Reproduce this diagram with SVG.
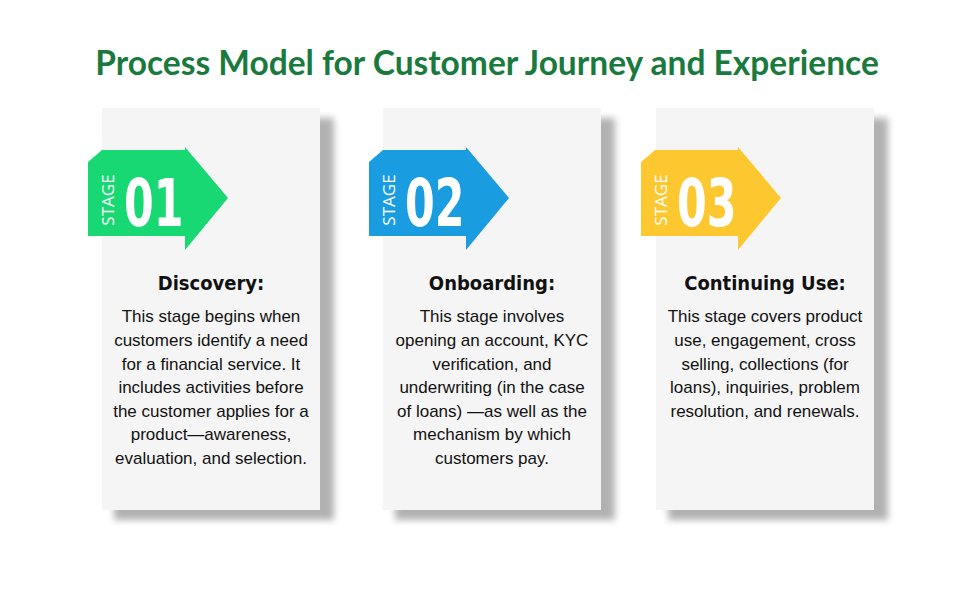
<svg xmlns="http://www.w3.org/2000/svg" width="974" height="602" viewBox="0 0 974 602">
<defs>
<filter id="sh" x="-10%" y="-10%" width="130%" height="130%"><feGaussianBlur stdDeviation="3.5"/></filter>
<path id="arr" d="M0,14 L14,2 L97,2 L97,-1 L140,50 L97,102 L97,88 L0,88 Z"/>
</defs>
<style>
.card{fill:#f5f5f5}
.shd{fill:#000;opacity:0.3;filter:url(#sh)}
.title{font-family:Lato,"Liberation Sans",sans-serif;font-weight:700;font-size:33.5px;fill:#1a7a3e}
.stage{font-family:"Open Sans","Liberation Sans",sans-serif;font-size:17px;fill:#fff}
.num{font-family:"DejaVu Sans Condensed","DejaVu Sans",sans-serif;font-weight:700;font-size:66px;fill:#fff}
.hd{font-family:"DejaVu Sans Condensed","Liberation Sans",sans-serif;font-weight:700;font-size:20px;fill:#111;text-anchor:middle}
.bd{font-family:"Liberation Sans",sans-serif;font-size:17px;fill:#111;text-anchor:middle}
</style>
<rect width="974" height="602" fill="#fff"/>
<text class="title" x="487" y="75" text-anchor="middle">Process Model for Customer Journey and Experience</text>
<g id="stage1">
<rect class="shd" x="114" y="118" width="220" height="402"/>
<rect class="card" x="102" y="108" width="218" height="402"/>
<use href="#arr" x="88" y="148" fill="#17d872"/>
<text class="stage" transform="translate(114,200) rotate(-90)" text-anchor="middle">STAGE</text>
<text class="num" transform="translate(124,226) scale(0.72,1)">01</text>
<text class="hd" x="211" y="290">Discovery:</text>
<text class="bd"><tspan x="211" y="322">This stage begins when</tspan><tspan x="211" y="346">customers identify a need</tspan><tspan x="211" y="370">for a financial service. It</tspan><tspan x="211" y="393">includes activities before</tspan><tspan x="211" y="417">the customer applies for a</tspan><tspan x="211" y="440">product—awareness,</tspan><tspan x="211" y="464">evaluation, and selection.</tspan></text>
</g>
<g id="stage2">
<rect class="shd" x="395" y="118" width="220" height="402"/>
<rect class="card" x="383" y="108" width="218" height="402"/>
<use href="#arr" x="369" y="148" fill="#1a9ce0"/>
<text class="stage" transform="translate(395,200) rotate(-90)" text-anchor="middle">STAGE</text>
<text class="num" transform="translate(405,226) scale(0.72,1)">02</text>
<text class="hd" x="492" y="290">Onboarding:</text>
<text class="bd"><tspan x="492" y="322">This stage involves</tspan><tspan x="492" y="346">opening an account, KYC</tspan><tspan x="492" y="370">verification, and</tspan><tspan x="492" y="393">underwriting (in the case</tspan><tspan x="492" y="417">of loans) —as well as the</tspan><tspan x="492" y="440">mechanism by which</tspan><tspan x="492" y="464">customers pay.</tspan></text>
</g>
<g id="stage3">
<rect class="shd" x="668" y="118" width="220" height="402"/>
<rect class="card" x="656" y="108" width="218" height="402"/>
<use href="#arr" x="641" y="148" fill="#fdc82f"/>
<text class="stage" transform="translate(667,200) rotate(-90)" text-anchor="middle">STAGE</text>
<text class="num" transform="translate(677,226) scale(0.72,1)">03</text>
<text class="hd" x="765" y="290">Continuing Use:</text>
<text class="bd"><tspan x="765" y="322">This stage covers product</tspan><tspan x="765" y="346">use, engagement, cross</tspan><tspan x="765" y="370">selling, collections (for</tspan><tspan x="765" y="393">loans), inquiries, problem</tspan><tspan x="765" y="417">resolution, and renewals.</tspan></text>
</g>
<g id="connectors"/>
</svg>
